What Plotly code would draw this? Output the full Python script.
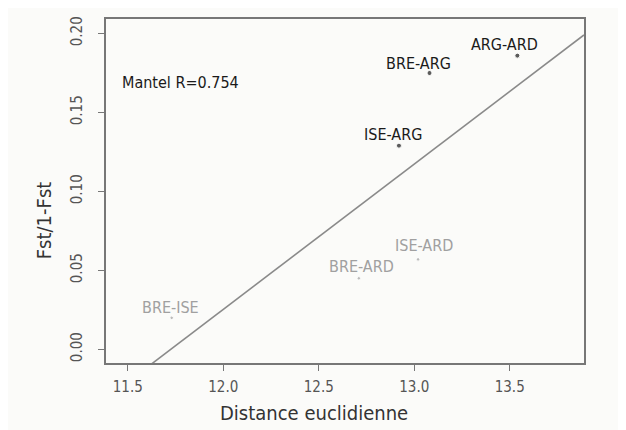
import numpy as np
import plotly.graph_objects as go

# Data
pairs = ["ARG-ARD", "BRE-ARG", "ISE-ARG", "BRE-ARD", "ISE-ARD", "BRE-ISE"]
dist_euclid = [13.54, 13.08, 12.92, 12.71, 13.02, 11.73]
fst_ratio = [0.186, 0.175, 0.129, 0.045, 0.057, 0.020]
involves_arg = [True, True, True, False, False, False]
mantel_text = "Mantel R=0.754"

x_ticks = [11.5, 12.0, 12.5, 13.0, 13.5]
y_ticks = [0.00, 0.05, 0.10, 0.15, 0.20]

# label pixel offsets (style)
label_dx = [-13, -11, -6, 3, 6, -1]
label_dy = [11, 10, 11, 12, 14, 10]

BLACK = "#1a1a1a"
GREY = "#a0a0a0"
FONT = "DejaVu Sans Condensed"

xr = [11.386, 13.889]
yr = [-0.0086, 0.2092]

# page body has an 8px margin; plot area in page pixels: x 106..584, y 16..363
OFF = 8
L, R, T, B = 106, 584, 16, 363
PW, PH = R - L, B - T

slope, intercept = np.polyfit(dist_euclid, fst_ratio, 1)
line_x = np.array(xr)
line_y = slope * line_x + intercept

fig = go.Figure()
fig.add_trace(go.Scatter(x=line_x, y=line_y, mode="lines",
                         line=dict(color="#8a8a8a", width=1.6),
                         hoverinfo="skip", showlegend=False))

colors = [BLACK if a else GREY for a in involves_arg]
sizes = [5 if a else 3.5 for a in involves_arg]
fig.add_trace(go.Scatter(x=dist_euclid, y=fst_ratio, mode="markers",
                         marker=dict(color=colors, size=sizes),
                         showlegend=False))

for p, x, y, a, dx, dy in zip(pairs, dist_euclid, fst_ratio, involves_arg, label_dx, label_dy):
    fig.add_annotation(x=x, y=y, text=p, showarrow=False, xshift=dx, yshift=dy,
                       xanchor="center", yanchor="middle",
                       font=dict(family=FONT, size=16, color=BLACK if a else GREY))

fig.add_annotation(xref="paper", yref="paper", x=(180 - L) / PW, y=(B - 80) / PH,
                   text=mantel_text, showarrow=False, xanchor="center", yanchor="middle",
                   font=dict(family=FONT, size=16, color=BLACK))

fig.add_annotation(xref="paper", yref="paper", x=(314 - L) / PW, y=(B - 413) / PH,
                   text="Distance euclidienne", showarrow=False,
                   xanchor="center", yanchor="middle",
                   font=dict(family=FONT, size=20, color="#333"))
fig.add_annotation(xref="paper", yref="paper", x=(44 - L) / PW, y=(B - 219) / PH,
                   text="Fst/1-Fst", showarrow=False, textangle=-90,
                   xanchor="center", yanchor="middle",
                   font=dict(family=FONT, size=20, color="#333"))

axis_common = dict(showline=True, mirror=True, linecolor="#777", linewidth=1.5,
                   ticks="outside", ticklen=6, tickcolor="#777", tickwidth=1.2,
                   showgrid=False, zeroline=False,
                   tickfont=dict(family=FONT, size=15, color="#555"))
fig.update_xaxes(range=xr, tickvals=x_ticks, ticktext=[f"{v:.1f}" for v in x_ticks],
                 ticklabelstandoff=3, **axis_common)
fig.update_yaxes(range=yr, tickvals=y_ticks, ticktext=[f"{v:.2f}" for v in y_ticks],
                 tickangle=-90, ticklabelstandoff=10, **axis_common)

fig.update_layout(width=626, height=430,
                  margin=dict(l=L - OFF, r=626 - (R - OFF), t=T - OFF, b=430 - (B - OFF)),
                  paper_bgcolor="#fbfbf9", plot_bgcolor="#fbfbf9",
                  showlegend=False)

fig.write_html("out.html")
